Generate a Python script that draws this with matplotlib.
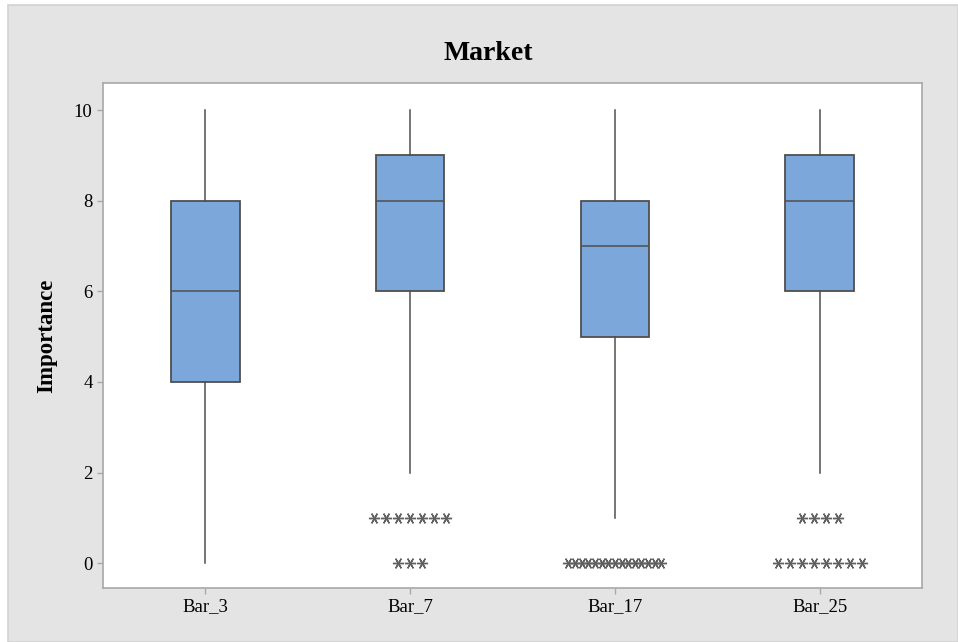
import matplotlib
matplotlib.use("Agg")
import matplotlib.pyplot as plt
from matplotlib.patches import Rectangle

categories = ["Bar_3", "Bar_7", "Bar_17", "Bar_25"]
q1 = [4, 6, 5, 6]
median = [6, 8, 7, 8]
q3 = [8, 9, 8, 9]
whisker_low = [0, 2, 1, 2]
whisker_high = [10, 10, 10, 10]
# outliers per category: values and how many times each occurs
outlier_values = [[], [1, 0], [0], [1, 0]]
outlier_counts = [[], [7, 3], [15], [4, 8]]
yticks = [0, 2, 4, 6, 8, 10]

plt.rcParams["font.family"] = ["Liberation Serif", "DejaVu Serif"]

fig = plt.figure(figsize=(9.58, 6.42), dpi=100)
fig.patch.set_facecolor("white")
W, H = 958, 642
bg = Rectangle((8 / W, 0), 1 - 8 / W, 1 - 5 / H, transform=fig.transFigure,
               facecolor="#E4E4E4", edgecolor="#D2D2D2", linewidth=1.2, zorder=-10)
fig.patches.append(bg)

ax = fig.add_axes([103 / W, 1 - 588 / H, (922 - 103) / W, (588 - 83) / H])
ax.set_facecolor("white")

stats = []
for i, c in enumerate(categories):
    stats.append(dict(label=c, med=median[i], q1=q1[i], q3=q3[i],
                      whislo=whisker_low[i], whishi=whisker_high[i], fliers=[]))
positions = list(range(1, len(categories) + 1))
edge = "#4F4F4F"
ax.bxp(stats, positions=positions, widths=0.335, patch_artist=True,
       showfliers=False, showcaps=False,
       boxprops=dict(facecolor="#7BA7DA", edgecolor=edge, linewidth=1.3),
       medianprops=dict(color=edge, linewidth=1.1),
       whiskerprops=dict(color=edge, linewidth=1.1))

for i, pos in enumerate(positions):
    for val, n in zip(outlier_values[i], outlier_counts[i]):
        spacing = 0.0586 if n <= 8 else 93 / 204.7 / (n - 1)
        xs = [pos + (k - (n - 1) / 2) * spacing for k in range(n)]
        ax.plot(xs, [val] * n, linestyle="none", marker=(6, 2, 90),
                markersize=8, markeredgewidth=1.0, color="#606060")

ax.set_xlim(0.5, 4.5)
ax.set_ylim(-0.55, 10.6)
ax.set_yticks(yticks)
ax.set_xticks(positions)
ax.set_xticklabels(categories)
for s in ax.spines.values():
    s.set_color("#A8A8A8")
    s.set_linewidth(1.2)
ax.tick_params(colors="#A8A8A8", labelcolor="black", labelsize=13.5, length=4, width=1)
ax.set_ylabel("Importance", fontsize=16.5, fontweight="bold")
ax.yaxis.set_label_coords(-46 / 819, 0.5)
fig.text(488 / W, 1 - 53 / H, "Market", ha="center", va="center",
         fontsize=20, fontweight="bold")

fig.savefig("out.png", dpi=100)
